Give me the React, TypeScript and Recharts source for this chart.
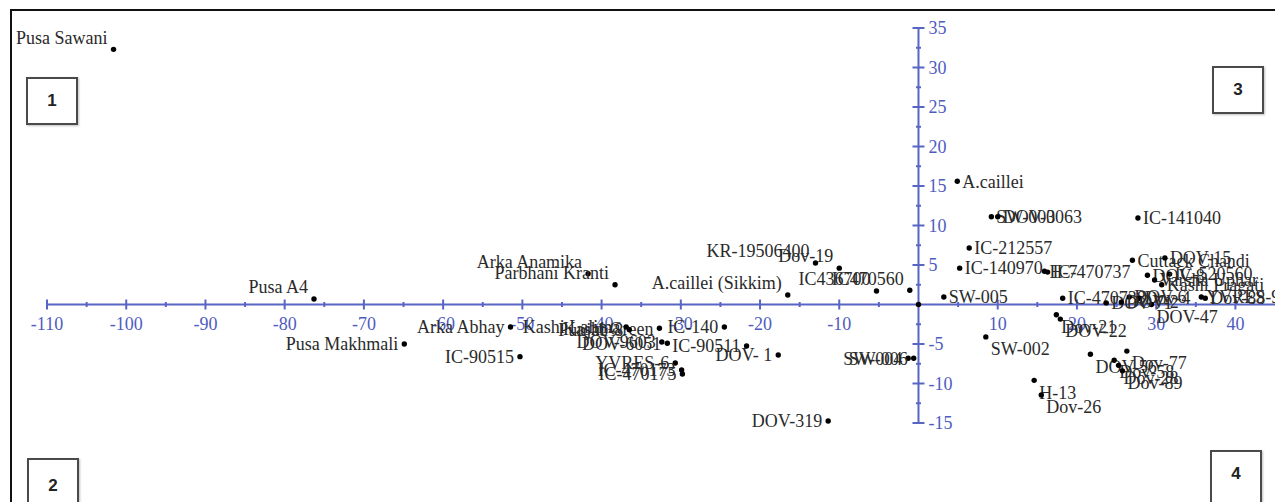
import React from 'react';
import { ScatterChart, Scatter, XAxis, YAxis, ReferenceLine } from 'recharts';

// Genotype names and their scores on the two axes
const names = [
  'Pusa Sawani', 'Pusa A4', 'Pusa Makhmali', 'Arka Abhay', 'IC-90515', 'Arka Anamika', 'Parbhani Kranti',
  'A.caillei (Sikkim)', 'KR-19506400', 'Dov-19', 'IC436700', 'IC470560', '', 'SW-005', 'A.caillei',
  'SW-003', 'DOV-0063', 'IC-212557', 'IC-140970', 'H-7', 'IC-470737', 'IC-141040', 'IC-470738', 'DOV-71',
  'Cuttack Chandi', 'DOV-15', 'DOV-8', 'IC-520560', 'Varsha Uphar', 'Kashi Pragati', 'DOV-6', 'Dov-4',
  'DOV-47', 'YVRES-9', 'Dov-88', 'DOV-2', 'Dov-21', 'DOV-22', 'SW-002', 'H-13', 'Dov-26', 'DOV-56',
  'Dov-77', 'Dov-58', 'Dov-28', 'Dov-89', 'SW-004', 'SW-006', 'DOV-319', 'DOV- 1', 'IC-90511', 'IC-140',
  'Kashi Green', 'Kashi Lalima', 'Punjab-8', 'DOV-9603', 'DOV-6051', 'YVRES-6', 'IC-470173', 'IC-470175',
];
const pc1 = [
  -101.6, -76.3, -64.9, -51.5, -50.3, -41.7, -38.3,
  -16.5, -13.0, -10.0, -5.3, -1.1, 0, 3.2, 4.9,
  9.2, 10.0, 6.4, 5.2, 15.9, 16.3, 27.7, 18.2, 23.7,
  27.0, 31.1, 28.9, 31.7, 29.8, 30.7, 26.6, 27.9,
  29.4, 35.7, 36.2, 25.6, 17.4, 17.9, 8.5, 14.6, 15.5, 21.7,
  26.3, 24.7, 25.25, 25.75, -1.3, -0.6, -11.4, -17.7, -21.7, -24.5,
  -32.7, -36.9, -36.5, -32.4, -31.7, -30.7, -29.9, -29.8,
];
const pc2 = [
  32.3, 0.7, -5.0, -2.85, -6.6, 3.9, 2.5,
  1.2, 5.25, 4.6, 1.7, 1.8, 0, 0.95, 15.6,
  11.1, 11.1, 7.15, 4.6, 4.2, 4.1, 10.95, 0.8, 0.2,
  5.6, 5.9, 3.7, 3.85, 3.1, 2.5, 0.95, 0.8,
  0.0, 0.95, 0.8, 0.3, -1.3, -1.85, -4.1, -9.6, -11.45, -6.3,
  -5.9, -7.05, -7.7, -8.4, -6.8, -6.8, -14.75, -6.4, -5.25, -2.85,
  -3.0, -2.85, -3.2, -4.75, -4.9, -7.4, -8.3, -8.8,
];

// Axis ticks
const xTickValues = [-110, -100, -90, -80, -70, -60, -50, -40, -30, -20, -10, 10, 20, 30, 40];
const xTickLabels = ['-110', '-100', '-90', '-80', '-70', '-60', '-50', '-40', '-30', '-20', '-10', '10', '20', '30', '40'];
const xMinorValues = [-105, -95, -85, -75, -65, -55, -45, -35, -25, -15, -5, 5, 15, 25, 35];
const yTickValues = [35, 30, 25, 20, 15, 10, 5, -5, -10, -15];
const yTickLabels = ['35', '30', '25', '20', '15', '10', '5', '-5', '-10', '-15'];
const yMinorValues = [32.5, 27.5, 22.5, 17.5, 12.5, 7.5, 2.5, -2.5, -7.5, -12.5];

// Label placement (style): default left for negative x, right for positive x
const topLeftLabels = new Set([
  'Pusa Sawani', 'Pusa A4', 'Arka Anamika', 'Parbhani Kranti', 'A.caillei (Sikkim)',
  'KR-19506400', 'Dov-19', 'IC436700', 'IC470560',
]);
const bottomRightLabels = new Set([
  'DOV-47', 'Dov-21', 'DOV-22', 'SW-002', 'H-13', 'Dov-26', 'DOV-56', 'Dov-77', 'Dov-58', 'Dov-28', 'Dov-89',
]);

const AXIS = '#5865c4';
const TICK_TEXT = '#4f5cbf';
const FONT = '"Liberation Serif", "Times New Roman", serif';
const FS = 18;

const points = names.map((name, i) => ({ name, x: pc1[i], y: pc2[i] }));
const xMajor = xTickValues.map((x, i) => ({ x, y: 0, label: xTickLabels[i] }));
const xMinor = xMinorValues.map((x) => ({ x, y: 0 }));
const yMajor = yTickValues.map((y, i) => ({ x: 0, y, label: yTickLabels[i] }));
const yMinor = yMinorValues.map((y) => ({ x: 0, y }));

function PointShape(props: any) {
  const { cx, cy, payload } = props;
  const name: string = payload.name;
  let side = payload.x < 0 ? 'L' : 'R';
  if (topLeftLabels.has(name)) side = 'TL';
  if (bottomRightLabels.has(name)) side = 'BR';
  let tx = cx - 6;
  let ty = cy;
  let anchor: 'start' | 'end' = 'end';
  if (side === 'TL') { tx = cx - 6; ty = cy - 12; }
  if (side === 'R') { tx = cx + 5; anchor = 'start'; }
  if (side === 'BR') { tx = cx + 5; ty = cy + 12; anchor = 'start'; }
  return (
    <g>
      <circle cx={cx} cy={cy} r={2.7} fill="#000" />
      {name ? (
        <text x={tx} y={ty} dy="0.35em" textAnchor={anchor} fontFamily={FONT} fontSize={FS} fill="#2a2a2a">
          {name}
        </text>
      ) : null}
    </g>
  );
}

function XMajorShape(props: any) {
  const { cx, cy, payload } = props;
  return (
    <g>
      <line x1={cx} x2={cx} y1={cy - 5} y2={cy + 5} stroke={AXIS} strokeWidth={2} />
      <text x={cx} y={cy + 19} dy="0.35em" textAnchor="middle" fontFamily={FONT} fontSize={FS} fill={TICK_TEXT}>
        {payload.label}
      </text>
    </g>
  );
}

function XMinorShape(props: any) {
  const { cx, cy } = props;
  return <line x1={cx} x2={cx} y1={cy - 2.5} y2={cy + 2.5} stroke={AXIS} strokeWidth={2} />;
}

function YMajorShape(props: any) {
  const { cx, cy, payload } = props;
  return (
    <g>
      <line x1={cx - 6} x2={cx + 6} y1={cy} y2={cy} stroke={AXIS} strokeWidth={2} />
      <text x={cx + 10} y={cy} dy="0.35em" textAnchor="start" fontFamily={FONT} fontSize={FS} fill={TICK_TEXT}>
        {payload.label}
      </text>
    </g>
  );
}

function YMinorShape(props: any) {
  const { cx, cy } = props;
  return <line x1={cx - 2.5} x2={cx + 2.5} y1={cy} y2={cy} stroke={AXIS} strokeWidth={2} />;
}

const boxStyle: React.CSSProperties = {
  position: 'absolute',
  width: 48,
  height: 44,
  border: '2px solid #4a4a4a',
  boxShadow: '1px 1px 2px rgba(0,0,0,0.25)',
  background: '#fff',
  display: 'flex',
  alignItems: 'center',
  justifyContent: 'center',
  fontFamily: '"Liberation Sans", Arial, sans-serif',
  fontWeight: 700,
  fontSize: 17,
  color: '#222',
};

export default function App() {
  return (
    <div style={{ position: 'absolute', left: 0, top: 0, width: 1275, height: 502, background: '#fff', overflow: 'hidden' }}>
      <ScatterChart width={1275} height={502} margin={{ top: 28, right: 0, bottom: 79, left: 47 }}>
        <XAxis type="number" dataKey="x" domain={[-110, 45]} ticks={[-110, 45]} hide />
        <YAxis type="number" dataKey="y" domain={[-15, 35]} ticks={[-15, 35]} hide />
        <ReferenceLine y={0} stroke={AXIS} strokeWidth={2} />
        <ReferenceLine x={0} stroke={AXIS} strokeWidth={2} />
        <Scatter data={xMinor} shape={XMinorShape} isAnimationActive={false} />
        <Scatter data={yMinor} shape={YMinorShape} isAnimationActive={false} />
        <Scatter data={xMajor} shape={XMajorShape} isAnimationActive={false} />
        <Scatter data={yMajor} shape={YMajorShape} isAnimationActive={false} />
        <Scatter data={points} shape={PointShape} isAnimationActive={false} />
      </ScatterChart>
      <div
        style={{
          position: 'absolute', left: 10, top: 9, width: 1275, height: 502,
          borderTop: '2px solid #111', borderLeft: '2px solid #111', pointerEvents: 'none',
        }}
      />
      <div style={{ ...boxStyle, left: 26, top: 77 }}>1</div>
      <div style={{ ...boxStyle, left: 1212, top: 66 }}>3</div>
      <div style={{ ...boxStyle, left: 27, top: 458, height: 60, alignItems: 'flex-start', paddingTop: 16, boxSizing: 'content-box' }}>2</div>
      <div style={{ ...boxStyle, left: 1210, top: 450, height: 60, alignItems: 'flex-start', paddingTop: 12, boxSizing: 'content-box' }}>4</div>
    </div>
  );
}
